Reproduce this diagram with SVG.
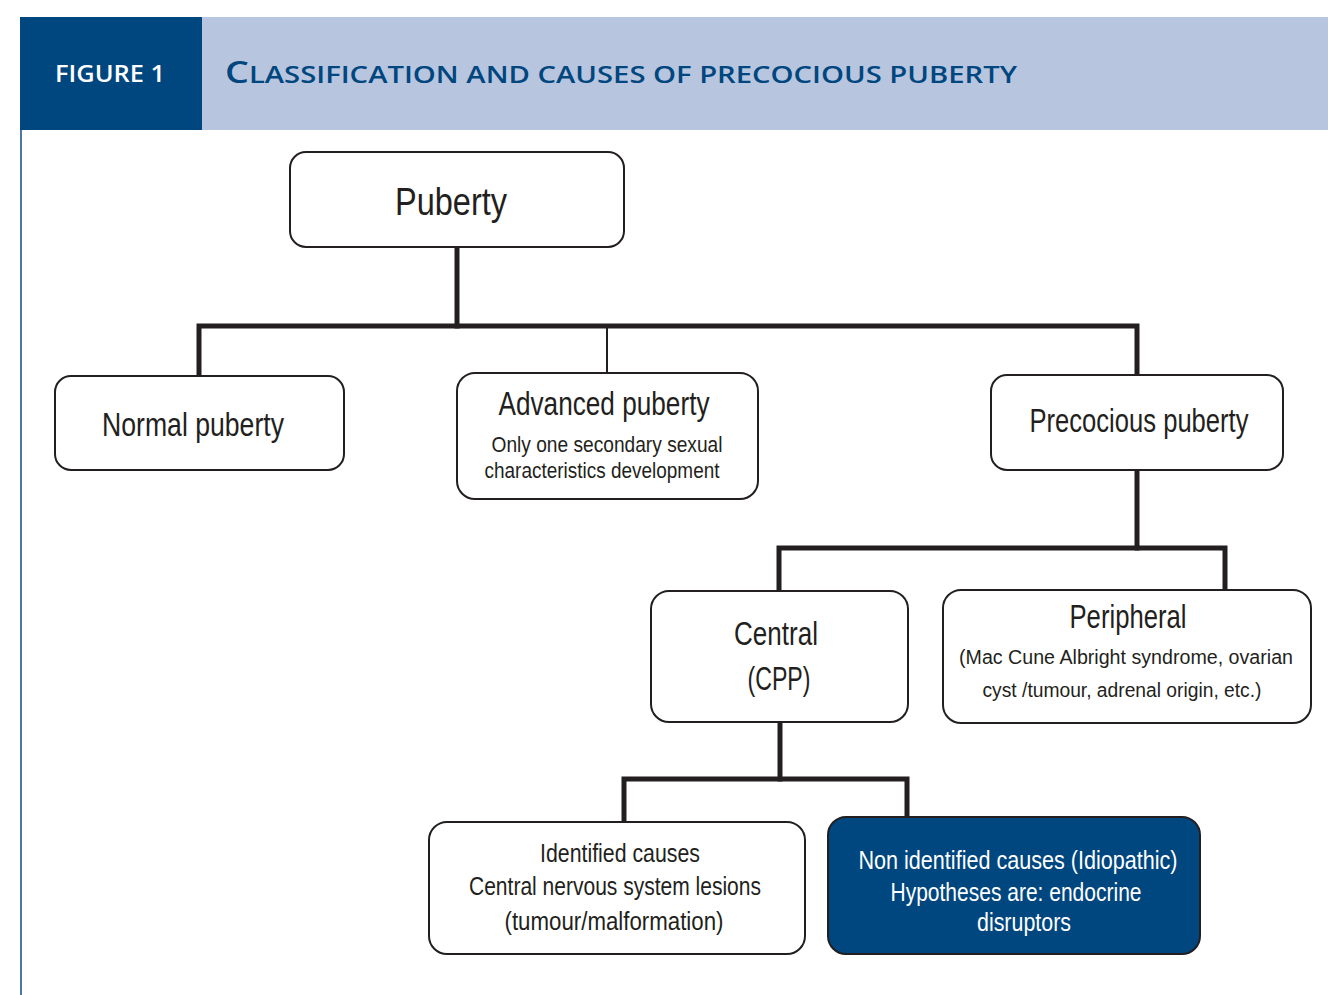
<svg xmlns="http://www.w3.org/2000/svg" width="1328" height="995" viewBox="0 0 1328 995">
<style>
.box{fill:#fff;stroke:#231f20;stroke-width:2}
.dark{fill:#00467f;stroke:#231f20;stroke-width:2}
.t{font-family:"Liberation Sans",Arial,sans-serif;fill:#231f20;text-anchor:middle}
.w{fill:#fff}
.big{font-size:33px}
.mid{font-size:25px}
.sm{font-size:22px}
.xs{font-size:20px}
.con{stroke:#231f20;stroke-width:5;fill:none;stroke-linecap:square}
.thin{stroke:#231f20;stroke-width:2;fill:none}
</style>
<rect x="0" y="0" width="1328" height="995" fill="#fff"/>
<g id="header">
<rect x="20" y="17" width="182" height="113" fill="#00467f"/>
<rect x="202" y="17" width="1126" height="113" fill="#b8c5de"/>
<line x1="21" y1="130" x2="21" y2="995" stroke="#4e77a6" stroke-width="2"/>
<text x="55" y="82" font-family="'Open Sans','Liberation Sans',sans-serif" font-size="23" font-weight="600" fill="#fff" textLength="110" lengthAdjust="spacingAndGlyphs">FIGURE 1</text>
<text x="225" y="83" font-family="'Open Sans','Liberation Sans',sans-serif" font-size="24" font-weight="600" fill="#00467f" textLength="792" lengthAdjust="spacingAndGlyphs"><tspan font-size="31">C</tspan>LASSIFICATION AND CAUSES OF PRECOCIOUS PUBERTY</text>
</g>
<g id="connectors">
<polyline class="con" points="457,249 457,326"/>
<polyline class="con" points="199,374 199,326 1137,326 1137,373"/>
<line class="thin" x1="607" y1="326" x2="607" y2="372"/>
<polyline class="con" points="1137,472 1137,548"/>
<polyline class="con" points="779,589 779,548 1225,548 1225,588"/>
<polyline class="con" points="780,724 780,779"/>
<polyline class="con" points="624,820 624,779 907,779 907,815"/>
</g>
<g id="puberty">
<rect class="box" x="290" y="152" width="334" height="95" rx="16"/>
<text class="t" x="451" y="215" font-size="38" textLength="112" lengthAdjust="spacingAndGlyphs">Puberty</text>
</g>
<g id="normal">
<rect class="box" x="55" y="376" width="289" height="94" rx="16"/>
<text class="t big" x="193" y="436" textLength="182" lengthAdjust="spacingAndGlyphs">Normal puberty</text>
</g>
<g id="advanced">
<rect class="box" x="457" y="373" width="301" height="126" rx="18"/>
<text class="t big" x="604" y="415" textLength="211" lengthAdjust="spacingAndGlyphs">Advanced puberty</text>
<text class="t sm" x="607" y="452" textLength="231" lengthAdjust="spacingAndGlyphs">Only one secondary sexual</text>
<text class="t sm" x="602" y="478" textLength="235" lengthAdjust="spacingAndGlyphs">characteristics development</text>
</g>
<g id="precocious">
<rect class="box" x="991" y="375" width="292" height="95" rx="16"/>
<text class="t big" x="1139" y="432" textLength="219" lengthAdjust="spacingAndGlyphs">Precocious puberty</text>
</g>
<g id="central">
<rect class="box" x="651" y="591" width="257" height="131" rx="18"/>
<text class="t big" x="776" y="645" textLength="84" lengthAdjust="spacingAndGlyphs">Central</text>
<text class="t big" x="779" y="690" textLength="63" lengthAdjust="spacingAndGlyphs">(CPP)</text>
</g>
<g id="peripheral">
<rect class="box" x="943" y="590" width="368" height="133" rx="18"/>
<text class="t big" x="1128" y="628" textLength="117" lengthAdjust="spacingAndGlyphs">Peripheral</text>
<text class="t xs" x="1126" y="664" textLength="334" lengthAdjust="spacingAndGlyphs">(Mac Cune Albright syndrome, ovarian</text>
<text class="t xs" x="1122" y="697" textLength="279" lengthAdjust="spacingAndGlyphs">cyst /tumour, adrenal origin, etc.)</text>
</g>
<g id="identified">
<rect class="box" x="429" y="822" width="376" height="132" rx="18"/>
<text class="t mid" x="620" y="862" textLength="160" lengthAdjust="spacingAndGlyphs">Identified causes</text>
<text class="t mid" x="615" y="895" textLength="292" lengthAdjust="spacingAndGlyphs">Central nervous system lesions</text>
<text class="t mid" x="614" y="930" textLength="219" lengthAdjust="spacingAndGlyphs">(tumour/malformation)</text>
</g>
<g id="nonidentified">
<rect class="dark" x="828" y="817" width="372" height="137" rx="18"/>
<text class="t mid w" x="1018" y="869" textLength="319" lengthAdjust="spacingAndGlyphs">Non identified causes (Idiopathic)</text>
<text class="t mid w" x="1016" y="901" textLength="251" lengthAdjust="spacingAndGlyphs">Hypotheses are: endocrine</text>
<text class="t mid w" x="1024" y="931" textLength="94" lengthAdjust="spacingAndGlyphs">disruptors</text>
</g>
</svg>
